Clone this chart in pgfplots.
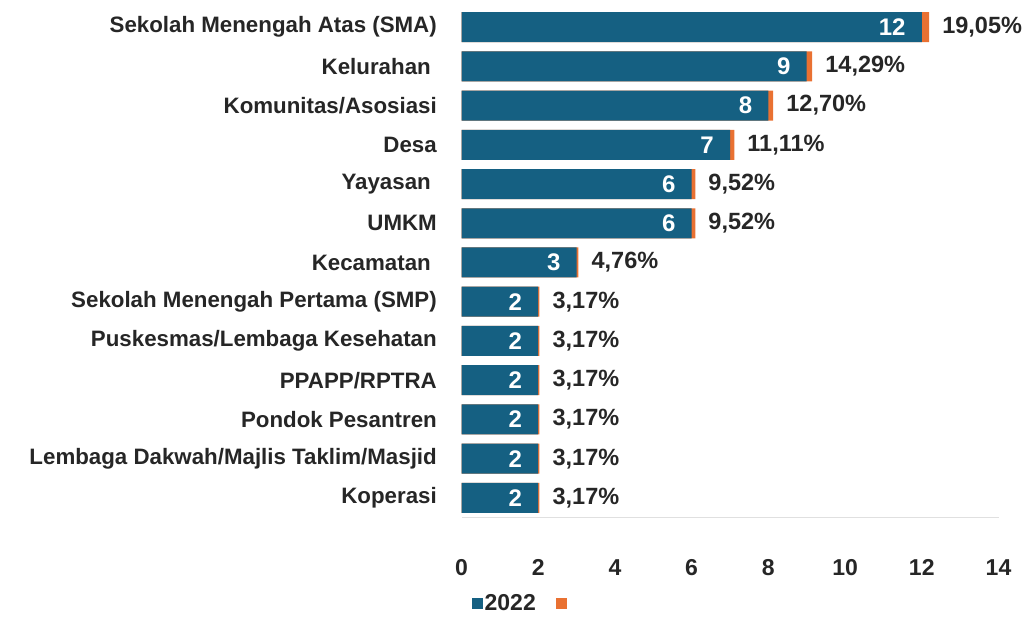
\documentclass[border=0pt]{standalone}
\usepackage{fontspec}
\setmainfont{Liberation Sans}
\usepackage{pgfplots}
\usepackage{pgfplotstable}
\pgfplotsset{compat=1.18}
\definecolor{cblue}{HTML}{156082}
\definecolor{corange}{HTML}{E97132}
\definecolor{ctext}{HTML}{262626}
\pgfplotstableread{
y val tot pct
0 2 2.0317 3.17
1 2 2.0317 3.17
2 2 2.0317 3.17
3 2 2.0317 3.17
4 2 2.0317 3.17
5 2 2.0317 3.17
6 3 3.0476 4.76
7 6 6.0952 9.52
8 6 6.0952 9.52
9 7 7.1111 11.11
10 8 8.1270 12.70
11 9 9.1429 14.29
12 12 12.1905 19.05
}\datatable
\newcommand{\lblfont}{\fontsize{22.3}{26}\selectfont\bfseries}
\begin{document}
\begin{tikzpicture}
\path[use as bounding box] (0,0) rectangle (1031pt,616pt);
\begin{axis}[
  at={(461.5pt,98.4pt)}, anchor=south west,
  width=537pt, height=510.2pt, scale only axis,
  xbar, bar width=30pt, bar shift=0pt,
  enlargelimits=false,
  xmin=0, xmax=14, ymin=-0.5, ymax=12.5,
  xtick={0,2,4,6,8,10,12,14},
  ytick={0,1,2,3,4,5,6,7,8,9,10,11,12},
  yticklabels={Koperasi,Lembaga Dakwah/Majlis Taklim/Masjid,Pondok Pesantren,PPAPP/RPTRA,Puskesmas/Lembaga Kesehatan,Sekolah Menengah Pertama (SMP),Kecamatan\kern6pt,UMKM,Yayasan\kern6pt,Desa,Komunitas/Asosiasi,Kelurahan\kern6pt,Sekolah Menengah Atas (SMA)},
  major tick length=0pt,
  axis x line*=bottom, axis y line*=left,
  x axis line style={draw=black!12, -},
  y axis line style={draw=none, -},
  tick label style={font=\lblfont, text=ctext},
  yticklabel style={anchor=east, inner sep=0pt, xshift=-24.5pt},
  xticklabel style={anchor=north, inner sep=0pt, text height=16pt, text depth=0pt, yshift=-41.5pt, font=\fontsize{23}{26}\selectfont\bfseries},
  /pgf/number format/assume math mode=true,
  legend columns=2,
  reverse legend,
  legend image code/.code={\fill[#1] (0pt,-5.5pt) rectangle (11pt,5.5pt);},
  legend style={at={(axis description cs:0.0195,-0.168)}, anchor=west, draw=none, fill=none,
    font=\fontsize{23}{26}\selectfont\bfseries, text=ctext, inner sep=0pt,
    /tikz/every even column/.append style={column sep=19pt},
    nodes={inner sep=1.5pt}},
]
\addplot[fill=corange, draw=none, point meta=\thisrow{pct},
  nodes near coords={\pgfmathprintnumber[fixed,fixed zerofill,precision=2,use comma]{\pgfplotspointmeta}\%},
  nodes near coords style={anchor=west, xshift=13pt, inner sep=0pt, text=ctext,
    font=\fontsize{23.5}{27}\selectfont\bfseries}]
  table[x=tot, y=y]{\datatable};
\addlegendentry{\mbox{}}
\addplot[fill=cblue, draw=none, point meta=\thisrow{val},
  nodes near coords={\pgfmathprintnumber{\pgfplotspointmeta}},
  nodes near coords style={anchor=east, xshift=-16pt, inner sep=0pt, text=white,
    font=\fontsize{24}{28}\selectfont\bfseries}]
  table[x=val, y=y]{\datatable};
\addlegendentry{2022}
\end{axis}
\end{tikzpicture}
\end{document}
